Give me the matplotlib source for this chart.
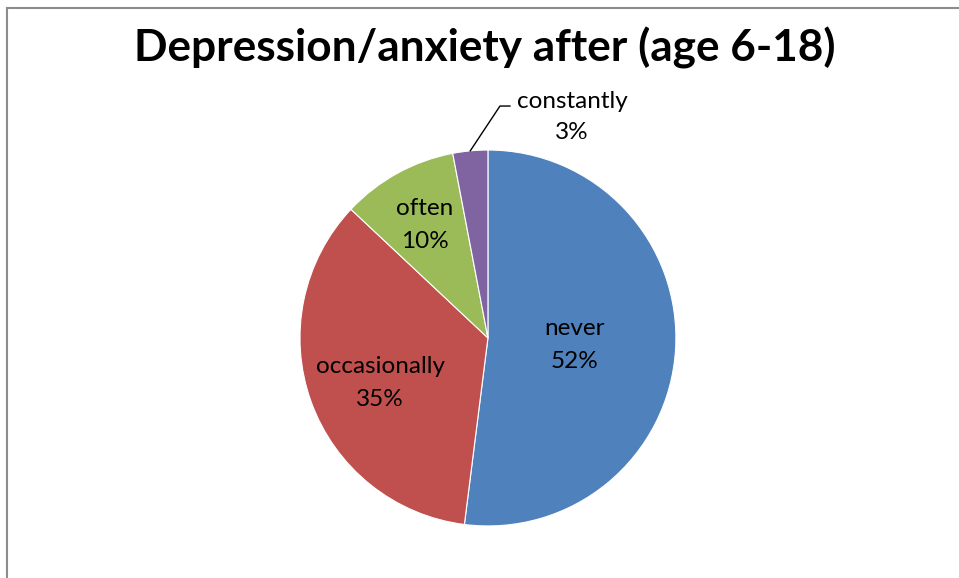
import numpy as np
import matplotlib
matplotlib.use('Agg')
import matplotlib.pyplot as plt
from matplotlib.lines import Line2D

# data
categories = ['never', 'occasionally', 'often', 'constantly']
shares = [52, 35, 10, 3]
colors = ['#4F81BD', '#C0504D', '#9BBB59', '#8064A2']
label_radius = [0.46, 0.61, 0.70]

plt.rcParams['font.family'] = ['Lato', 'DejaVu Sans']

fig = plt.figure(figsize=(9.59, 5.78), dpi=100)
ax = fig.add_axes([0.3128, 0.090, 0.392, 0.6505])

ax.pie(shares, colors=colors, startangle=90, counterclock=False,
       wedgeprops=dict(edgecolor='white', linewidth=0.8))
ax.set_xlim(-1, 1)
ax.set_ylim(-1, 1)
ax.set_aspect('equal')

# mid angles of each slice (degrees)
total = sum(shares)
cum = np.cumsum([0] + shares[:-1])
mid = 90 - (cum + np.array(shares) / 2) / total * 360

for i in range(3):
    a = np.deg2rad(mid[i])
    r = label_radius[i]
    # a little lower for the bigger lower-left slice
    dy = -0.035 if i == 1 else -0.01
    ax.text(r * np.cos(a), r * np.sin(a) + dy, f'{categories[i]}\n{shares[i]}%',
            ha='center', va='center', fontsize=17.5, linespacing=1.7)

# outside label with leader line
a = np.deg2rad(mid[3])
ax.plot([np.cos(a), 0.064, 0.117], [np.sin(a), 1.234, 1.234],
        color='black', lw=1, clip_on=False)
ax.text(0.447, 1.176, f'{categories[3]}\n{shares[3]}%', ha='center', va='center',
        fontsize=17.5, linespacing=1.6)

fig.text(0.505, 1 - 48 / 578, 'Depression/anxiety after (age 6-18)',
         ha='center', va='center', fontsize=31.8, fontweight='bold')

# chart area border (top and left only visible)
fig.add_artist(Line2D([6.5 / 959, 6.5 / 959], [0, 1 - 7.5 / 578], color='#8C8C8C', lw=1.5))
fig.add_artist(Line2D([6.5 / 959, 1], [1 - 7.5 / 578, 1 - 7.5 / 578], color='#8C8C8C', lw=1.5))

fig.savefig('out.png', dpi=100)
